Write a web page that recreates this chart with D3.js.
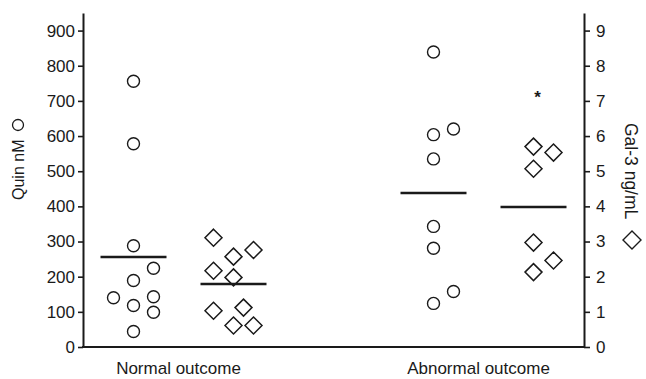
<!DOCTYPE html>
<html>
<head>
<meta charset="utf-8">
<script src="https://cdn.jsdelivr.net/npm/d3@7"></script>
<style>
  body { margin: 0; background: #fff; }
  svg text { font-family: "Liberation Sans", Arial, sans-serif; fill: #1a1a1a; }
</style>
</head>
<body>
<div id="chart"></div>
<script>
// groups on the x axis
const categories = ['Normal outcome', 'Abnormal outcome'];

// Quin nM (circles, left axis)
const quinNormal = [756, 578, 288, 224, 189, 140, 143, 118, 99, 44];
const quinNormalSlot = [0, 0, 0, 1, 0, -1, 1, 0, 1, 0];
const quinAbnormal = [839, 604, 620, 535, 343, 281, 124, 158];
const quinAbnormalSlot = [0, 0, 1, 0, 0, 0, 0, 1];
const quinMeans = [256, 438];

// Gal-3 ng/mL (diamonds, right axis)
const galNormal = [3.11, 2.57, 2.76, 2.17, 1.98, 1.03, 1.12, 0.61, 0.61];
const galNormalSlot = [-1, 0, 1, -1, 0, -1, 0.5, 0, 1];
const galAbnormal = [5.70, 5.53, 5.07, 2.97, 2.46, 2.13];
const galAbnormalSlot = [0, 1, 0, 0, 1, 0];
const galMeans = [1.79, 3.98];

const quinTicks = [0, 100, 200, 300, 400, 500, 600, 700, 800, 900];
const galTicks = [0, 1, 2, 3, 4, 5, 6, 7, 8, 9];
const starValue = 7.25; // significance mark above abnormal Gal-3

const W = 646, H = 379;
const mLeft = 83, mRight = 584, mTop = 13, mBottom = 347;
const ink = '#1a1a1a';

const svg = d3.select('#chart').append('svg')
  .attr('width', W)
  .attr('height', H);

const x = d3.scalePoint().domain(categories).range([mLeft, mRight]).padding(0.335);
const yL = d3.scaleLinear().domain([0, 950]).range([mBottom, mTop]);
const yR = d3.scaleLinear().domain([0, 9.5]).range([mBottom, mTop]);

const seriesOffset = 50;  // circles left of group centre, diamonds right
const slotStep = 20;

// axes
const axL = svg.append('g')
  .attr('transform', `translate(${mLeft},0)`)
  .call(d3.axisLeft(yL).tickValues(quinTicks).tickSize(5).tickPadding(3).tickSizeOuter(0));
const axR = svg.append('g')
  .attr('transform', `translate(${mRight},0)`)
  .call(d3.axisRight(yR).tickValues(galTicks).tickSize(6).tickPadding(6).tickSizeOuter(0));

[axL, axR].forEach(ax => {
  ax.select('.domain').attr('stroke', ink).attr('stroke-width', 2);
  ax.selectAll('.tick line').attr('stroke', ink).attr('stroke-width', 1.6);
  ax.selectAll('.tick text')
    .attr('font-size', 17)
    .attr('fill', ink)
    .style('font-family', '"Liberation Sans", Arial, sans-serif');
});

svg.append('line')
  .attr('x1', mLeft - 1).attr('x2', mRight + 1)
  .attr('y1', mBottom).attr('y2', mBottom)
  .attr('stroke', ink).attr('stroke-width', 2);

// category labels
svg.selectAll('.cat')
  .data(categories)
  .enter().append('text')
  .attr('class', 'cat')
  .attr('x', d => x(d) - 5)
  .attr('y', 374)
  .attr('text-anchor', 'middle')
  .attr('font-size', 17)
  .text(d => d);

// axis titles
const lt = svg.append('g').attr('transform', 'translate(24,200) rotate(-90)');
lt.append('text').attr('x', 0).attr('y', 0).attr('font-size', 16).text('Quin nM');
lt.append('circle').attr('cx', 75).attr('cy', -6).attr('r', 5.5)
  .attr('fill', 'none').attr('stroke', ink).attr('stroke-width', 1.3);

const rt = svg.append('g').attr('transform', 'translate(625,123) rotate(90)');
rt.append('text').attr('x', 0).attr('y', 0).attr('font-size', 17.5).text('Gal-3 ng/mL');
rt.append('path')
  .attr('d', 'M108,-7 l9,-9 l9,9 l-9,9 z')
  .attr('fill', 'none').attr('stroke', ink).attr('stroke-width', 1.4);

// points
function pts(values, slots, cat, sign) {
  return values.map((v, i) => ({ v, cat, sign, slot: slots[i] }));
}
const circles = pts(quinNormal, quinNormalSlot, categories[0], -1)
  .concat(pts(quinAbnormal, quinAbnormalSlot, categories[1], -1));
const diamonds = pts(galNormal, galNormalSlot, categories[0], 1)
  .concat(pts(galAbnormal, galAbnormalSlot, categories[1], 1));

const px = d => x(d.cat) + d.sign * seriesOffset + d.slot * slotStep;

svg.selectAll('.quin')
  .data(circles)
  .enter().append('circle')
  .attr('class', 'quin')
  .attr('cx', px)
  .attr('cy', d => yL(d.v))
  .attr('r', 6)
  .attr('fill', '#fff')
  .attr('stroke', ink)
  .attr('stroke-width', 1.4);

const dsz = 8.5;
svg.selectAll('.gal')
  .data(diamonds)
  .enter().append('path')
  .attr('class', 'gal')
  .attr('transform', d => `translate(${px(d)},${yR(d.v)})`)
  .attr('d', `M0,${-dsz} L${dsz},0 L0,${dsz} L${-dsz},0 Z`)
  .attr('fill', '#fff')
  .attr('stroke', ink)
  .attr('stroke-width', 1.5);

// mean lines
const half = 33;
svg.selectAll('.qmean')
  .data(categories)
  .enter().append('line')
  .attr('x1', d => x(d) - seriesOffset - half)
  .attr('x2', d => x(d) - seriesOffset + half)
  .attr('y1', (d, i) => yL(quinMeans[i]))
  .attr('y2', (d, i) => yL(quinMeans[i]))
  .attr('stroke', ink).attr('stroke-width', 2.5);

svg.selectAll('.gmean')
  .data(categories)
  .enter().append('line')
  .attr('x1', d => x(d) + seriesOffset - half)
  .attr('x2', d => x(d) + seriesOffset + half)
  .attr('y1', (d, i) => yR(galMeans[i]))
  .attr('y2', (d, i) => yR(galMeans[i]))
  .attr('stroke', ink).attr('stroke-width', 2.5);

// significance star
svg.append('text')
  .attr('x', x(categories[1]) + seriesOffset + 4)
  .attr('y', yR(starValue))
  .attr('dy', '0.62em')
  .attr('text-anchor', 'middle')
  .attr('font-size', 17)
  .attr('font-weight', 'bold')
  .text('*');
</script>
</body>
</html>
